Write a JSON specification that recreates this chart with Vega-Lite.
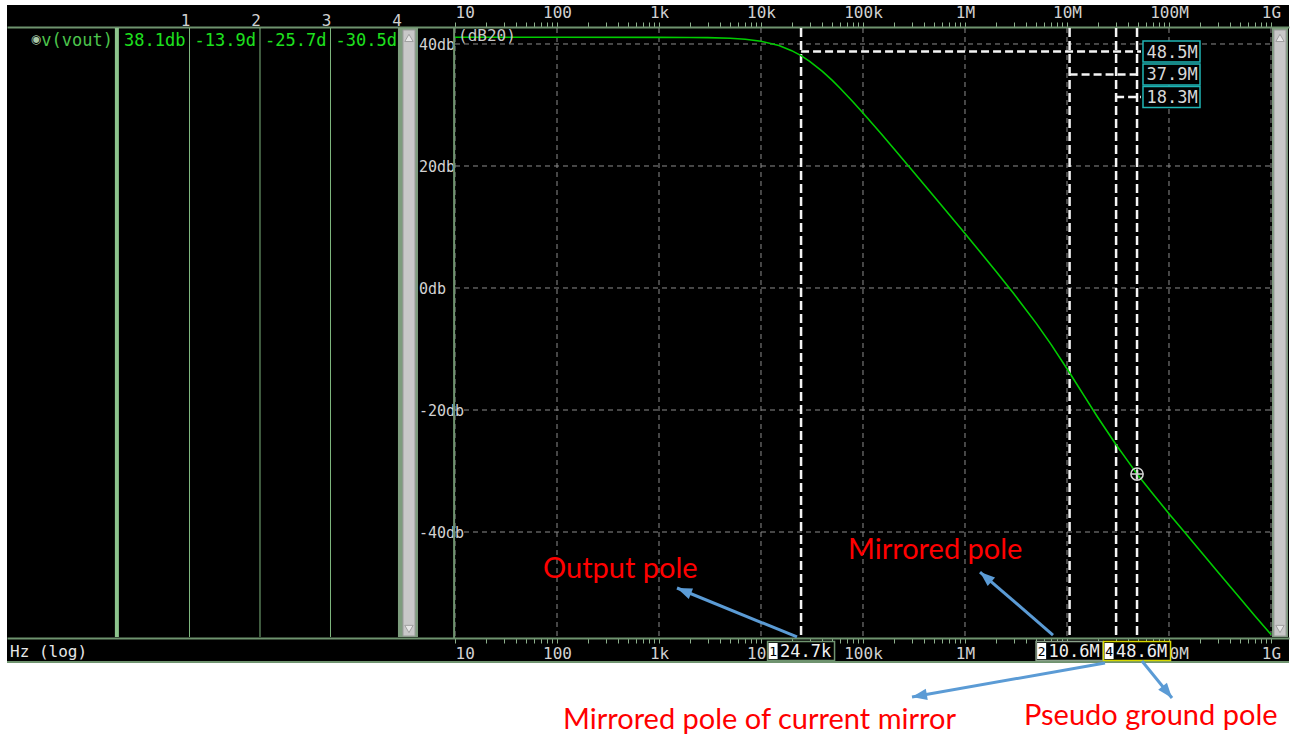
{
  "$schema": "https://vega.github.io/schema/vega-lite/v6.json",
  "width": 1282,
  "height": 658,
  "autosize": {"type": "none"},
  "padding": {"left": 7, "top": 5, "right": 8, "bottom": 74},
  "background": "#ffffff",
  "config": {"view": {"fill": "#000000", "stroke": null}},
  "datasets": {
    "curve": [
      {"f": 10, "db": 41.1}, {"f": 100, "db": 41.1}, {"f": 1000, "db": 41.09}, {"f": 2000, "db": 41.07},
      {"f": 3000, "db": 41.04}, {"f": 5000, "db": 40.93}, {"f": 7000, "db": 40.77}, {"f": 10000, "db": 40.44},
      {"f": 15000, "db": 39.74}, {"f": 20000, "db": 38.91}, {"f": 24700, "db": 38.1}, {"f": 30000, "db": 37.16},
      {"f": 40000, "db": 35.51}, {"f": 50000, "db": 34.03}, {"f": 60000, "db": 32.71}, {"f": 80000, "db": 30.5},
      {"f": 100000, "db": 28.7}, {"f": 150000, "db": 25.32}, {"f": 200000, "db": 22.87}, {"f": 300000, "db": 19.38},
      {"f": 500000, "db": 14.96}, {"f": 1000000, "db": 8.95}, {"f": 2000000, "db": 2.79}, {"f": 3000000, "db": -0.9},
      {"f": 5000000, "db": -5.8}, {"f": 7000000, "db": -9.28}, {"f": 10000000, "db": -13.23}, {"f": 10600000, "db": -13.9},
      {"f": 15000000, "db": -17.9}, {"f": 20000000, "db": -21.18}, {"f": 30300000, "db": -25.7}, {"f": 40000000, "db": -28.5},
      {"f": 48600000, "db": -30.5}, {"f": 70000000, "db": -33.8}, {"f": 100000000, "db": -37.0}, {"f": 150000000, "db": -40.5},
      {"f": 200000000, "db": -43.0}, {"f": 300000000, "db": -46.5}, {"f": 500000000, "db": -50.9}, {"f": 700000000, "db": -53.8},
      {"f": 1000000000, "db": -56.8}
    ],
    "decades": [{"f": 10}, {"f": 100}, {"f": 1000}, {"f": 10000}, {"f": 100000}, {"f": 1000000}, {"f": 10000000}, {"f": 100000000}, {"f": 1000000000}],
    "levels": [{"db": -40, "label": "-40db"}, {"db": -20, "label": "-20db"}, {"db": 0, "label": "0db"}, {"db": 20, "label": "20db"}, {"db": 40, "label": "40db"}],
    "cursors": [
      {"cursor": "1", "col": 1, "reading": "38.1db", "f": 24700, "db": 38.1, "flabel": "24.7k"},
      {"cursor": "2", "col": 2, "reading": "-13.9d", "f": 10600000, "db": -13.9, "flabel": "10.6M"},
      {"cursor": "3", "col": 3, "reading": "-25.7d", "f": 30300000, "db": -25.7, "flabel": "30.3M"},
      {"cursor": "4", "col": 4, "reading": "-30.5d", "f": 48600000, "db": -30.5, "flabel": "48.6M"}
    ],
    "deltas": [
      {"label": "48.5M", "from": 24700, "lvl": 38.77},
      {"label": "37.9M", "from": 10600000, "lvl": 35.0},
      {"label": "18.3M", "from": 30300000, "lvl": 31.31}
    ],
    "notes": [
      {"text": "Output pole", "f": 72.9, "db": -47.54},
      {"text": "Mirrored pole", "f": 71270, "db": -44.43},
      {"text": "Mirrored pole of current mirror", "f": 114.5, "db": -72.3},
      {"text": "Pseudo ground pole", "f": 3788000, "db": -71.64}
    ],
    "arrows": [
      {"note": "Output pole", "f1": 22537, "db1": -57.21, "f2": 1501.6, "db2": -49.18},
      {"note": "Mirrored pole", "f1": 7291000, "db1": -56.89, "f2": 1403400, "db2": -46.56},
      {"note": "Mirrored pole of current mirror", "f1": 23580000, "db1": -61.48, "f2": 302300, "db2": -67.05},
      {"note": "Pseudo ground pole", "f1": 54360000, "db1": -61.15, "f2": 107010000, "db2": -67.21}
    ],
    "trace": [{"name": "v(vout)", "xlabel": "Hz (log)", "unit": "(dB20)"}]
  },
  "layer": [
    {
      "layer": [
        {
          "data": {"name": "trace"},
          "mark": {"type": "rect", "fill": "#7d9c7d"},
          "encoding": {
            "x": {"datum": 3.957, "type": "quantitative", "scale": {"domain": [-1.5887, 16.596], "nice": false, "zero": false}, "axis": null},
            "x2": {"datum": 4.241},
            "y": {"datum": 42.62, "type": "quantitative", "scale": {"domain": [-61.475, 46.393], "nice": false, "zero": false}, "axis": null},
            "y2": {"datum": -57.21}
          }
        },
        {
          "data": {"name": "trace"},
          "mark": {"type": "rect", "fill": "#c8c8c8", "stroke": "#9a9a9a", "strokeWidth": 1},
          "encoding": {
            "x": {"datum": 4.028, "type": "quantitative", "scale": {"domain": [-1.5887, 16.596], "nice": false, "zero": false}, "axis": null},
            "x2": {"datum": 4.199},
            "y": {"datum": 42.3, "type": "quantitative", "scale": {"domain": [-61.475, 46.393], "nice": false, "zero": false}, "axis": null},
            "y2": {"datum": -57.05}
          }
        },
        {
          "data": {"name": "trace"},
          "mark": {"type": "point", "shape": "triangle-up", "filled": true, "size": 70, "fill": "#e8e8e8", "stroke": "#a0a0a0", "strokeWidth": 1, "opacity": 1},
          "encoding": {
            "x": {"datum": 4.113, "type": "quantitative", "scale": {"domain": [-1.5887, 16.596], "nice": false, "zero": false}, "axis": null},
            "y": {"datum": 41.0, "type": "quantitative", "scale": {"domain": [-61.475, 46.393], "nice": false, "zero": false}, "axis": null}
          }
        },
        {
          "data": {"name": "trace"},
          "mark": {"type": "point", "shape": "triangle-down", "filled": true, "size": 70, "fill": "#e8e8e8", "stroke": "#a0a0a0", "strokeWidth": 1, "opacity": 1},
          "encoding": {
            "x": {"datum": 4.113, "type": "quantitative", "scale": {"domain": [-1.5887, 16.596], "nice": false, "zero": false}, "axis": null},
            "y": {"datum": -55.9, "type": "quantitative", "scale": {"domain": [-61.475, 46.393], "nice": false, "zero": false}, "axis": null}
          }
        },
        {
          "data": {"name": "trace"},
          "mark": {"type": "rule", "color": "#8cc48c", "strokeWidth": 4},
          "encoding": {
            "x": {"datum": -0.03, "type": "quantitative", "scale": {"domain": [-1.5887, 16.596], "nice": false, "zero": false}, "axis": null},
            "y": {"datum": 42.62, "type": "quantitative", "scale": {"domain": [-61.475, 46.393], "nice": false, "zero": false}, "axis": null},
            "y2": {"datum": -57.21}
          }
        },
        {
          "data": {"name": "cursors"},
          "transform": [{"filter": "datum.col < 4"}],
          "mark": {"type": "rule", "color": "#7fb87f", "strokeWidth": 1},
          "encoding": {
            "x": {"field": "col", "type": "quantitative", "scale": {"domain": [-1.5887, 16.596], "nice": false, "zero": false}, "axis": null},
            "y": {"datum": 42.62, "type": "quantitative", "scale": {"domain": [-61.475, 46.393], "nice": false, "zero": false}, "axis": null},
            "y2": {"datum": -57.21}
          }
        },
        {
          "data": {"name": "cursors"},
          "mark": {"type": "text", "align": "right", "baseline": "alphabetic", "dx": 1, "font": "DejaVu Sans Mono", "fontSize": 16, "color": "#d0d0d0"},
          "encoding": {
            "x": {"field": "col", "type": "quantitative", "scale": {"domain": [-1.5887, 16.596], "nice": false, "zero": false}, "axis": null},
            "y": {"datum": 42.95, "type": "quantitative", "scale": {"domain": [-61.475, 46.393], "nice": false, "zero": false}, "axis": null},
            "text": {"field": "cursor"}
          }
        },
        {
          "data": {"name": "cursors"},
          "mark": {"type": "text", "align": "right", "baseline": "alphabetic", "dx": -4, "font": "DejaVu Sans Mono", "fontSize": 17, "color": "#1ee01e"},
          "encoding": {
            "x": {"field": "col", "type": "quantitative", "scale": {"domain": [-1.5887, 16.596], "nice": false, "zero": false}, "axis": null},
            "y": {"datum": 39.67, "type": "quantitative", "scale": {"domain": [-61.475, 46.393], "nice": false, "zero": false}, "axis": null},
            "text": {"field": "reading"}
          }
        },
        {
          "data": {"name": "trace"},
          "mark": {"type": "text", "align": "right", "baseline": "alphabetic", "dx": -6, "font": "DejaVu Sans Mono", "fontSize": 17, "color": "#4cc44c"},
          "encoding": {
            "x": {"datum": 0, "type": "quantitative", "scale": {"domain": [-1.5887, 16.596], "nice": false, "zero": false}, "axis": null},
            "y": {"datum": 39.67, "type": "quantitative", "scale": {"domain": [-61.475, 46.393], "nice": false, "zero": false}, "axis": null},
            "text": {"field": "name"}
          }
        },
        {
          "data": {"name": "trace"},
          "mark": {"type": "text", "align": "center", "baseline": "middle", "dx": -83, "font": "DejaVu Sans", "fontSize": 12, "color": "#a8c8a8", "text": "◉"},
          "encoding": {
            "x": {"datum": 0, "type": "quantitative", "scale": {"domain": [-1.5887, 16.596], "nice": false, "zero": false}, "axis": null},
            "y": {"datum": 40.82, "type": "quantitative", "scale": {"domain": [-61.475, 46.393], "nice": false, "zero": false}, "axis": null}
          }
        },
        {
          "data": {"name": "trace"},
          "mark": {"type": "text", "align": "left", "baseline": "alphabetic", "font": "DejaVu Sans Mono", "fontSize": 16, "color": "#e6e6e6"},
          "encoding": {
            "x": {"datum": -1.546, "type": "quantitative", "scale": {"domain": [-1.5887, 16.596], "nice": false, "zero": false}, "axis": null},
            "y": {"datum": -60.49, "type": "quantitative", "scale": {"domain": [-61.475, 46.393], "nice": false, "zero": false}, "axis": null},
            "text": {"field": "xlabel"}
          }
        }
      ]
    },
    {
      "layer": [
        {
          "data": {"name": "decades"},
          "mark": {"type": "rule", "color": "#8c8c8c", "strokeWidth": 1, "strokeDash": [5, 4]},
          "encoding": {
            "x": {
              "field": "f", "type": "quantitative",
              "scale": {"type": "log", "domain": [0.00040533, 1501400000], "nice": false},
              "axis": {
                "orient": "top", "offset": -22,
                "values": [10,20,30,40,50,60,70,80,90,100,200,300,400,500,600,700,800,900,1000,2000,3000,4000,5000,6000,7000,8000,9000,10000,20000,30000,40000,50000,60000,70000,80000,90000,100000,200000,300000,400000,500000,600000,700000,800000,900000,1000000,2000000,3000000,4000000,5000000,6000000,7000000,8000000,9000000,10000000,20000000,30000000,40000000,50000000,60000000,70000000,80000000,90000000,100000000,200000000,300000000,400000000,500000000,600000000,700000000,800000000,900000000,1000000000],
                "labelExpr": "abs(log(datum.value)/LN10 - round(log(datum.value)/LN10)) < 0.001 ? format(datum.value, '~s') : ''",
                "labelAlign": {"condition": {"test": "datum.value < 15", "value": "left"}, "value": "center"},
                "labelBaseline": "bottom", "labelPadding": 2, "labelFont": "DejaVu Sans Mono", "labelFontSize": 16,
                "labelColor": "#d2d2d2", "labelOverlap": false, "labelFlush": false,
                "tickColor": "#8db08d", "tickSize": 5, "tickWidth": 1,
                "domainColor": "#6f936f", "domainWidth": 2, "grid": false, "title": null
              }
            },
            "y": {"datum": 42.62, "type": "quantitative", "scale": {"domain": [-61.475, 46.393], "nice": false, "zero": false}, "axis": null},
            "y2": {"datum": -57.21}
          }
        },
        {
          "data": {"name": "levels"},
          "mark": {"type": "rule", "color": "#8c8c8c", "strokeWidth": 1, "strokeDash": [5, 4]},
          "encoding": {
            "y": {"field": "db", "type": "quantitative", "scale": {"domain": [-61.475, 46.393], "nice": false, "zero": false}, "axis": null},
            "x": {"datum": 10, "type": "quantitative", "scale": {"type": "log", "domain": [0.00040533, 1501400000], "nice": false}, "axis": null},
            "x2": {"datum": 1000000000}
          }
        },
        {
          "data": {"name": "levels"},
          "mark": {"type": "text", "align": "left", "baseline": "middle", "dy": 1, "font": "DejaVu Sans Mono", "fontSize": 15, "color": "#d2d2d2"},
          "encoding": {
            "y": {"field": "db", "type": "quantitative", "scale": {"domain": [-61.475, 46.393], "nice": false, "zero": false}, "axis": null},
            "x": {"datum": 4.436, "type": "quantitative", "scale": {"type": "log", "domain": [0.00040533, 1501400000], "nice": false}, "axis": null},
            "text": {"field": "label"}
          }
        },
        {
          "data": {"name": "trace"},
          "mark": {"type": "rule", "color": "#6f936f", "strokeWidth": 2},
          "encoding": {
            "x": {"datum": 9.8, "type": "quantitative", "scale": {"type": "log", "domain": [0.00040533, 1501400000], "nice": false}, "axis": null},
            "y": {"datum": 42.79, "type": "quantitative", "scale": {"domain": [-61.475, 46.393], "nice": false, "zero": false}, "axis": null},
            "y2": {"datum": -57.38}
          }
        },
        {
          "data": {"name": "trace"},
          "mark": {"type": "rule", "color": "#6f936f", "strokeWidth": 2},
          "encoding": {
            "y": {"datum": -61.31, "type": "quantitative", "scale": {"domain": [-61.475, 46.393], "nice": false, "zero": false}, "axis": null}
          }
        },
        {
          "data": {"name": "trace"},
          "mark": {"type": "rect", "fill": "#7d9c7d"},
          "encoding": {
            "x": {"datum": 1022800000, "type": "quantitative", "scale": {"type": "log", "domain": [0.00040533, 1501400000], "nice": false}, "axis": null},
            "x2": {"datum": 1467800000},
            "y": {"datum": 42.62, "type": "quantitative", "scale": {"domain": [-61.475, 46.393], "nice": false, "zero": false}, "axis": null},
            "y2": {"datum": -57.21}
          }
        },
        {
          "data": {"name": "trace"},
          "mark": {"type": "rect", "fill": "#c8c8c8", "stroke": "#9a9a9a", "strokeWidth": 1},
          "encoding": {
            "x": {"datum": 1070100000, "type": "quantitative", "scale": {"type": "log", "domain": [0.00040533, 1501400000], "nice": false}, "axis": null},
            "x2": {"datum": 1403500000},
            "y": {"datum": 42.3, "type": "quantitative", "scale": {"domain": [-61.475, 46.393], "nice": false, "zero": false}, "axis": null},
            "y2": {"datum": -57.05}
          }
        },
        {
          "data": {"name": "trace"},
          "mark": {"type": "point", "shape": "triangle-up", "filled": true, "size": 70, "fill": "#e8e8e8", "stroke": "#a0a0a0", "strokeWidth": 1, "opacity": 1},
          "encoding": {
            "x": {"datum": 1225000000, "type": "quantitative", "scale": {"type": "log", "domain": [0.00040533, 1501400000], "nice": false}, "axis": null},
            "y": {"datum": 41.0, "type": "quantitative", "scale": {"domain": [-61.475, 46.393], "nice": false, "zero": false}, "axis": null}
          }
        },
        {
          "data": {"name": "trace"},
          "mark": {"type": "point", "shape": "triangle-down", "filled": true, "size": 70, "fill": "#e8e8e8", "stroke": "#a0a0a0", "strokeWidth": 1, "opacity": 1},
          "encoding": {
            "x": {"datum": 1225000000, "type": "quantitative", "scale": {"type": "log", "domain": [0.00040533, 1501400000], "nice": false}, "axis": null},
            "y": {"datum": -55.9, "type": "quantitative", "scale": {"domain": [-61.475, 46.393], "nice": false, "zero": false}, "axis": null}
          }
        },
        {
          "data": {"name": "cursors"},
          "mark": {"type": "rule", "color": "#f4f4f4", "strokeWidth": 2.5, "strokeDash": [9, 4]},
          "encoding": {
            "x": {"field": "f", "type": "quantitative", "scale": {"type": "log", "domain": [0.00040533, 1501400000], "nice": false}, "axis": null},
            "y": {"datum": 42.62, "type": "quantitative", "scale": {"domain": [-61.475, 46.393], "nice": false, "zero": false}, "axis": null},
            "y2": {"datum": -57.21}
          }
        },
        {
          "data": {"name": "deltas"},
          "mark": {"type": "rule", "color": "#f4f4f4", "strokeWidth": 2.5, "strokeDash": [8, 4]},
          "encoding": {
            "x": {"field": "from", "type": "quantitative", "scale": {"type": "log", "domain": [0.00040533, 1501400000], "nice": false}, "axis": null},
            "x2": {"datum": 53150000},
            "y": {"field": "lvl", "type": "quantitative", "scale": {"domain": [-61.475, 46.393], "nice": false, "zero": false}, "axis": null}
          }
        },
        {
          "data": {"name": "deltas"},
          "mark": {"type": "point", "shape": "M-1,-0.368L1,-0.368L1,0.368L-1,0.368Z", "filled": true, "fill": "#000000", "stroke": "#1fb5b5", "strokeWidth": 1.5, "size": 3249, "opacity": 1},
          "encoding": {
            "x": {"datum": 105810000, "type": "quantitative", "scale": {"type": "log", "domain": [0.00040533, 1501400000], "nice": false}, "axis": null},
            "y": {"field": "lvl", "type": "quantitative", "scale": {"domain": [-61.475, 46.393], "nice": false, "zero": false}, "axis": null}
          }
        },
        {
          "data": {"name": "deltas"},
          "mark": {"type": "text", "align": "left", "baseline": "middle", "dx": -25, "dy": 1, "font": "DejaVu Sans Mono", "fontSize": 17, "color": "#d8d8d8"},
          "encoding": {
            "x": {"datum": 105810000, "type": "quantitative", "scale": {"type": "log", "domain": [0.00040533, 1501400000], "nice": false}, "axis": null},
            "y": {"field": "lvl", "type": "quantitative", "scale": {"domain": [-61.475, 46.393], "nice": false, "zero": false}, "axis": null},
            "text": {"field": "label"}
          }
        },
        {
          "data": {"name": "curve"},
          "mark": {"type": "line", "color": "#00cc00", "strokeWidth": 1.6},
          "encoding": {
            "x": {
              "field": "f", "type": "quantitative",
              "scale": {"type": "log", "domain": [0.00040533, 1501400000], "nice": false},
              "axis": {
                "orient": "bottom", "offset": -25,
                "values": [10,20,30,40,50,60,70,80,90,100,200,300,400,500,600,700,800,900,1000,2000,3000,4000,5000,6000,7000,8000,9000,10000,20000,30000,40000,50000,60000,70000,80000,90000,100000,200000,300000,400000,500000,600000,700000,800000,900000,1000000,2000000,3000000,4000000,5000000,6000000,7000000,8000000,9000000,10000000,20000000,30000000,40000000,50000000,60000000,70000000,80000000,90000000,100000000,200000000,300000000,400000000,500000000,600000000,700000000,800000000,900000000,1000000000],
                "labelExpr": "abs(log(datum.value)/LN10 - round(log(datum.value)/LN10)) < 0.001 ? format(datum.value, '~s') : ''",
                "labelAlign": {"condition": {"test": "datum.value < 15", "value": "left"}, "value": "center"},
                "labelBaseline": "top", "labelPadding": 2, "labelFont": "DejaVu Sans Mono", "labelFontSize": 16,
                "labelColor": "#d2d2d2", "labelOverlap": false, "labelFlush": false,
                "tickColor": "#8db08d", "tickSize": 5, "tickWidth": 1,
                "domainColor": "#6f936f", "domainWidth": 2, "grid": false, "title": null
              }
            },
            "y": {"field": "db", "type": "quantitative", "scale": {"domain": [-61.475, 46.393], "nice": false, "zero": false}, "axis": null}
          }
        },
        {
          "data": {"name": "cursors"},
          "transform": [{"filter": "datum.cursor == '4'"}],
          "mark": {"type": "point", "shape": "circle", "filled": false, "size": 150, "stroke": "#d4d4d4", "strokeWidth": 1.5, "opacity": 1},
          "encoding": {
            "x": {"field": "f", "type": "quantitative", "scale": {"type": "log", "domain": [0.00040533, 1501400000], "nice": false}, "axis": null},
            "y": {"field": "db", "type": "quantitative", "scale": {"domain": [-61.475, 46.393], "nice": false, "zero": false}, "axis": null}
          }
        },
        {
          "data": {"name": "cursors"},
          "transform": [{"filter": "datum.cursor == '4'"}],
          "mark": {"type": "point", "shape": "M-1,0L1,0M0,-1L0,1", "filled": false, "size": 150, "stroke": "#d4d4d4", "strokeWidth": 1.5, "opacity": 1},
          "encoding": {
            "x": {"field": "f", "type": "quantitative", "scale": {"type": "log", "domain": [0.00040533, 1501400000], "nice": false}, "axis": null},
            "y": {"field": "db", "type": "quantitative", "scale": {"domain": [-61.475, 46.393], "nice": false, "zero": false}, "axis": null}
          }
        },
        {
          "data": {"name": "cursors"},
          "transform": [{"filter": "datum.cursor != '3'"}],
          "mark": {"type": "point", "shape": "M-1,-0.2836L1,-0.2836L1,0.2836L-1,0.2836Z", "filled": true, "fill": "#000000", "strokeWidth": 1.5, "size": 4489, "opacity": 1},
          "encoding": {
            "x": {"field": "f", "type": "quantitative", "scale": {"type": "log", "domain": [0.00040533, 1501400000], "nice": false}, "axis": null},
            "y": {"datum": -59.51, "type": "quantitative", "scale": {"domain": [-61.475, 46.393], "nice": false, "zero": false}, "axis": null},
            "stroke": {"field": "cursor", "type": "nominal", "scale": {"domain": ["1", "2", "4"], "range": ["#6f936f", "#8aa08a", "#d8d800"]}, "legend": null}
          }
        },
        {
          "data": {"name": "cursors"},
          "transform": [{"filter": "datum.cursor != '3'"}],
          "mark": {"type": "point", "shape": "M-0.97,-0.24L-0.7,-0.24L-0.7,0.24L-0.97,0.24Z", "filled": true, "fill": "#ffffff", "strokeWidth": 0, "size": 4489, "opacity": 1},
          "encoding": {
            "x": {"field": "f", "type": "quantitative", "scale": {"type": "log", "domain": [0.00040533, 1501400000], "nice": false}, "axis": null},
            "y": {"datum": -59.51, "type": "quantitative", "scale": {"domain": [-61.475, 46.393], "nice": false, "zero": false}, "axis": null}
          }
        },
        {
          "data": {"name": "cursors"},
          "transform": [{"filter": "datum.cursor != '3'"}],
          "mark": {"type": "text", "align": "center", "baseline": "middle", "dx": -28, "dy": 1, "font": "DejaVu Sans Mono", "fontSize": 13, "color": "#000000"},
          "encoding": {
            "x": {"field": "f", "type": "quantitative", "scale": {"type": "log", "domain": [0.00040533, 1501400000], "nice": false}, "axis": null},
            "y": {"datum": -59.51, "type": "quantitative", "scale": {"domain": [-61.475, 46.393], "nice": false, "zero": false}, "axis": null},
            "text": {"field": "cursor"}
          }
        },
        {
          "data": {"name": "cursors"},
          "transform": [{"filter": "datum.cursor != '3'"}],
          "mark": {"type": "text", "align": "left", "baseline": "middle", "dx": -21, "dy": 1, "font": "DejaVu Sans Mono", "fontSize": 17, "color": "#f0f0f0"},
          "encoding": {
            "x": {"field": "f", "type": "quantitative", "scale": {"type": "log", "domain": [0.00040533, 1501400000], "nice": false}, "axis": null},
            "y": {"datum": -59.51, "type": "quantitative", "scale": {"domain": [-61.475, 46.393], "nice": false, "zero": false}, "axis": null},
            "text": {"field": "flabel"}
          }
        },
        {
          "data": {"name": "trace"},
          "mark": {"type": "text", "align": "left", "baseline": "alphabetic", "dx": 3, "font": "DejaVu Sans Mono", "fontSize": 16, "color": "#c8c8c8"},
          "encoding": {
            "x": {"datum": 10, "type": "quantitative", "scale": {"type": "log", "domain": [0.00040533, 1501400000], "nice": false}, "axis": null},
            "y": {"datum": 40.49, "type": "quantitative", "scale": {"domain": [-61.475, 46.393], "nice": false, "zero": false}, "axis": null},
            "text": {"field": "unit"}
          }
        },
        {
          "data": {"name": "arrows"},
          "mark": {"type": "rule", "color": "#5b9bd5", "strokeWidth": 3},
          "encoding": {
            "x": {"field": "f1", "type": "quantitative", "scale": {"type": "log", "domain": [0.00040533, 1501400000], "nice": false}, "axis": null},
            "x2": {"field": "f2"},
            "y": {"field": "db1", "type": "quantitative", "scale": {"domain": [-61.475, 46.393], "nice": false, "zero": false}, "axis": null},
            "y2": {"field": "db2"}
          }
        },
        {
          "data": {"name": "arrows"},
          "transform": [{"filter": "datum.note == 'Output pole'"}],
          "mark": {"type": "point", "shape": "M0,0L0.45,1.2L-0.45,1.2Z", "filled": true, "size": 625, "angle": 292.2, "color": "#5b9bd5", "opacity": 1, "strokeWidth": 0},
          "encoding": {
            "x": {"field": "f2", "type": "quantitative", "scale": {"type": "log", "domain": [0.00040533, 1501400000], "nice": false}, "axis": null},
            "y": {"field": "db2", "type": "quantitative", "scale": {"domain": [-61.475, 46.393], "nice": false, "zero": false}, "axis": null}
          }
        },
        {
          "data": {"name": "arrows"},
          "transform": [{"filter": "datum.note == 'Mirrored pole'"}],
          "mark": {"type": "point", "shape": "M0,0L0.45,1.2L-0.45,1.2Z", "filled": true, "size": 625, "angle": 310.8, "color": "#5b9bd5", "opacity": 1, "strokeWidth": 0},
          "encoding": {
            "x": {"field": "f2", "type": "quantitative", "scale": {"type": "log", "domain": [0.00040533, 1501400000], "nice": false}, "axis": null},
            "y": {"field": "db2", "type": "quantitative", "scale": {"domain": [-61.475, 46.393], "nice": false, "zero": false}, "axis": null}
          }
        },
        {
          "data": {"name": "arrows"},
          "transform": [{"filter": "datum.note == 'Mirrored pole of current mirror'"}],
          "mark": {"type": "point", "shape": "M0,0L0.45,1.2L-0.45,1.2Z", "filled": true, "size": 625, "angle": 260, "color": "#5b9bd5", "opacity": 1, "strokeWidth": 0},
          "encoding": {
            "x": {"field": "f2", "type": "quantitative", "scale": {"type": "log", "domain": [0.00040533, 1501400000], "nice": false}, "axis": null},
            "y": {"field": "db2", "type": "quantitative", "scale": {"domain": [-61.475, 46.393], "nice": false, "zero": false}, "axis": null}
          }
        },
        {
          "data": {"name": "arrows"},
          "transform": [{"filter": "datum.note == 'Pseudo ground pole'"}],
          "mark": {"type": "point", "shape": "M0,0L0.45,1.2L-0.45,1.2Z", "filled": true, "size": 625, "angle": 141, "color": "#5b9bd5", "opacity": 1, "strokeWidth": 0},
          "encoding": {
            "x": {"field": "f2", "type": "quantitative", "scale": {"type": "log", "domain": [0.00040533, 1501400000], "nice": false}, "axis": null},
            "y": {"field": "db2", "type": "quantitative", "scale": {"domain": [-61.475, 46.393], "nice": false, "zero": false}, "axis": null}
          }
        },
        {
          "data": {"name": "notes"},
          "mark": {"type": "text", "align": "left", "baseline": "alphabetic", "font": "Lato", "fontSize": 29, "color": "#ff0000"},
          "encoding": {
            "x": {"field": "f", "type": "quantitative", "scale": {"type": "log", "domain": [0.00040533, 1501400000], "nice": false}, "axis": null},
            "y": {"field": "db", "type": "quantitative", "scale": {"domain": [-61.475, 46.393], "nice": false, "zero": false}, "axis": null},
            "text": {"field": "text"}
          }
        }
      ],
      "resolve": {"axis": {"x": "independent"}}
    }
  ],
  "resolve": {"scale": {"x": "independent"}, "axis": {"x": "independent"}}
}
